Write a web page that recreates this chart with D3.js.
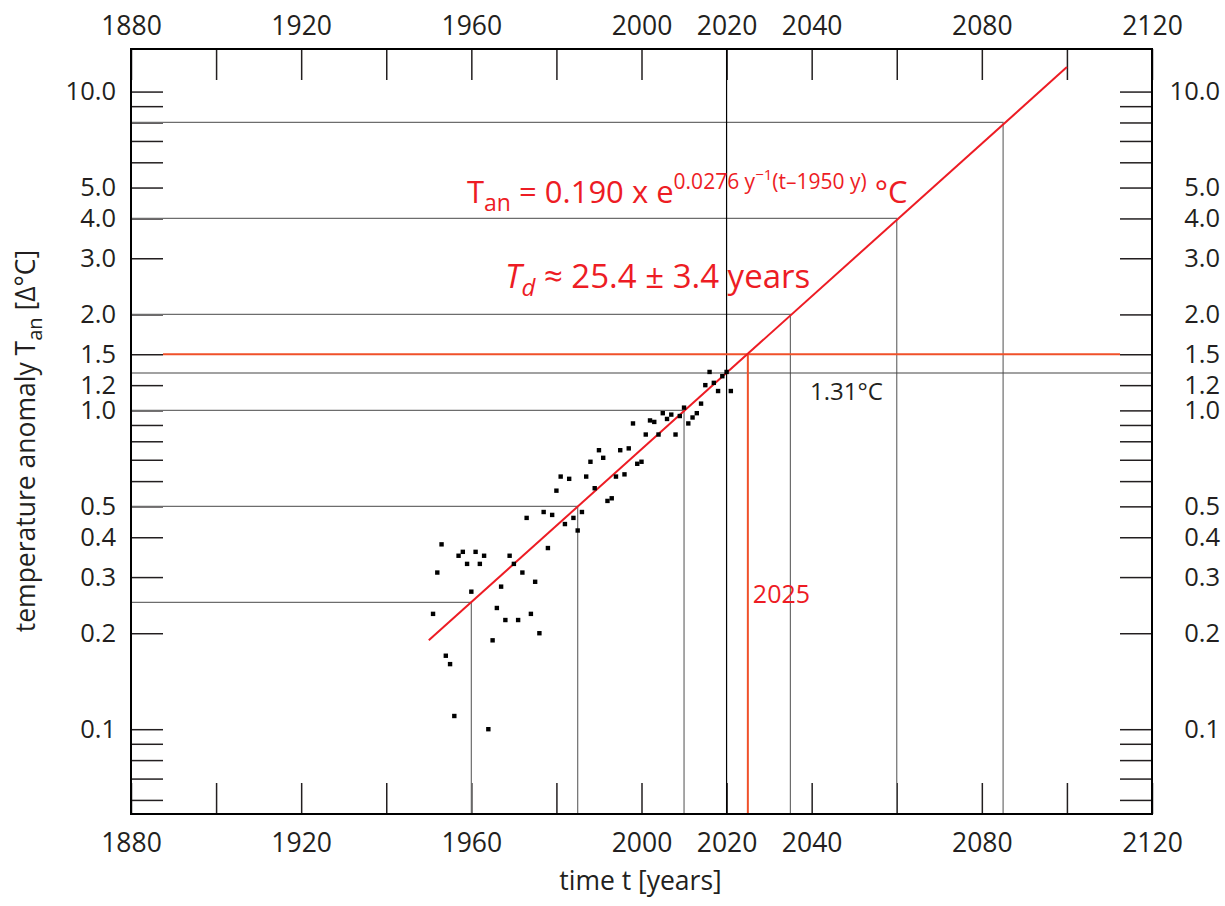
<!DOCTYPE html>
<html>
<head>
<meta charset="utf-8">
<script src="https://cdn.jsdelivr.net/npm/d3@7"></script>
<style>
  body { margin: 0; background: #fff; }
  svg text { font-family: "Open Sans", "Noto Sans", sans-serif; }
</style>
</head>
<body>
<svg id="chart" width="1225" height="906"></svg>
<script>
// annual temperature anomaly
const years = [1951, 1952, 1953, 1954, 1955, 1956, 1957, 1958, 1959, 1960,
  1961, 1962, 1963, 1964, 1965, 1966, 1967, 1968, 1969, 1970,
  1971, 1972, 1973, 1974, 1975, 1976, 1977, 1978, 1979, 1980,
  1981, 1982, 1983, 1984, 1985, 1986, 1987, 1988, 1989, 1990,
  1991, 1992, 1993, 1994, 1995, 1996, 1997, 1998, 1999, 2000,
  2001, 2002, 2003, 2004, 2005, 2006, 2007, 2008, 2009, 2010,
  2011, 2012, 2013, 2014, 2015, 2016, 2017, 2018, 2019, 2020, 2021];
const anomalies = [0.23, 0.31, 0.38, 0.17, 0.16, 0.11, 0.35, 0.36, 0.33, 0.27,
  0.36, 0.33, 0.35, 0.10, 0.19, 0.24, 0.28, 0.22, 0.35, 0.33,
  0.22, 0.31, 0.46, 0.23, 0.29, 0.20, 0.48, 0.37, 0.47, 0.56,
  0.62, 0.44, 0.61, 0.46, 0.42, 0.48, 0.62, 0.69, 0.57, 0.75,
  0.71, 0.52, 0.53, 0.62, 0.75, 0.63, 0.76, 0.91, 0.68, 0.69,
  0.84, 0.93, 0.92, 0.84, 0.98, 0.94, 0.97, 0.84, 0.96, 1.02,
  0.91, 0.95, 0.98, 1.05, 1.20, 1.32, 1.22, 1.15, 1.28, 1.32, 1.15];

// exponential fit  T = a * exp(k (t - t0))
const fitA = 0.190, fitK = 0.0276, fitT0 = 1950;
const fitRange = [1950, 2100];

// doubling marks (every 25 years)
const doublingYears = [1960, 1985, 2010, 2035, 2060, 2085];
const doublingValues = [0.25, 0.5, 1, 2, 4, 8];

const currentYear = 2020, currentValue = 1.31;
const limitValue = 1.5, limitYear = 2025;

const xTicks = [1880, 1900, 1920, 1940, 1960, 1980, 2000, 2020, 2040, 2060, 2080, 2100, 2120];
const xLabels = [1880, 1920, 1960, 2000, 2020, 2040, 2080, 2120];
const yTicks = [0.06, 0.07, 0.08, 0.09, 0.1, 0.2, 0.3, 0.4, 0.5, 0.6, 0.7, 0.8, 0.9,
  1.0, 1.2, 1.5, 2, 3, 4, 5, 6, 7, 8, 9, 10];
const yLabels = [0.1, 0.2, 0.3, 0.4, 0.5, 1.0, 1.2, 1.5, 2, 3, 4, 5, 10];

const RED = "#ed1c24", ORANGE = "#f0512a", INK = "#231f20", GRID = "#6d6d6d";

const svg = d3.select("#chart");
const margin = {top: 49, left: 131, right: 73, bottom: 92};
const W = 1225 - margin.left - margin.right;   // 1021
const H = 906 - margin.top - margin.bottom;    // 765

const x = d3.scaleLinear().domain([1880, 2120]).range([0, W]);
const y = d3.scaleLog().domain([0.0542, 13.6]).range([H, 0]);

const g = svg.append("g").attr("transform", `translate(${margin.left},${margin.top})`);

// axes (ticks point inward)
const fmtX = d => xLabels.includes(d) ? d : "";
const fmtY = d => yLabels.some(v => Math.abs(v - d) < 1e-9) ? d3.format(".1f")(d) : "";

function styleAxis(sel, size) {
  sel.select(".domain").remove();
  sel.selectAll("line").attr("stroke", INK).attr("stroke-width", 1.5);
  sel.selectAll("text").attr("fill", INK).style("font-size", size + "px");
}

g.append("g").attr("transform", `translate(0,${H})`)
  .call(d3.axisBottom(x).tickValues(xTicks).tickFormat(fmtX).tickSizeInner(-31).tickSizeOuter(0).tickPadding(19))
  .call(styleAxis, 26.5);
g.append("g")
  .call(d3.axisTop(x).tickValues(xTicks).tickFormat(fmtX).tickSizeInner(-31).tickSizeOuter(0).tickPadding(14))
  .call(styleAxis, 26.5);
g.append("g")
  .call(d3.axisLeft(y).tickValues(yTicks).tickFormat(fmtY).tickSizeInner(-32).tickSizeOuter(0).tickPadding(15))
  .call(styleAxis, 25.5);
g.append("g").attr("transform", `translate(${W},0)`)
  .call(d3.axisRight(y).tickValues(yTicks).tickFormat(fmtY).tickSizeInner(-32).tickSizeOuter(0).tickPadding(68))
  .call(styleAxis, 25.5)
  .selectAll("text").attr("text-anchor", "end");

// doubling guide lines
const guides = g.append("g").attr("stroke", GRID).attr("stroke-width", 1.2).attr("fill", "none");
doublingYears.forEach((yr, i) => {
  const v = doublingValues[i];
  guides.append("path")
    .attr("d", `M0,${y(v)}H${x(yr)}V${H}`);
});

// current anomaly level and year
g.append("line").attr("x1", 0).attr("x2", W).attr("y1", y(currentValue)).attr("y2", y(currentValue))
  .attr("stroke", "#444").attr("stroke-width", 1.2);
g.append("line").attr("x1", x(currentYear)).attr("x2", x(currentYear)).attr("y1", 0).attr("y2", H)
  .attr("stroke", "#000").attr("stroke-width", 1.2);

// 1.5 degree limit
g.append("line").attr("x1", 32).attr("x2", W - 32).attr("y1", y(limitValue)).attr("y2", y(limitValue))
  .attr("stroke", ORANGE).attr("stroke-width", 2);
g.append("line").attr("x1", x(limitYear)).attr("x2", x(limitYear)).attr("y1", y(limitValue)).attr("y2", H)
  .attr("stroke", ORANGE).attr("stroke-width", 2);

// fit line
const fitLine = d3.line().x(d => x(d)).y(d => y(fitA * Math.exp(fitK * (d - fitT0))));
g.append("path").datum(fitRange).attr("d", fitLine)
  .attr("fill", "none").attr("stroke", RED).attr("stroke-width", 2);

// data points
g.append("g").selectAll("rect").data(years).join("rect")
  .attr("x", (d, i) => x(d) - 2.2)
  .attr("y", (d, i) => y(anomalies[i]) - 2.2)
  .attr("width", 4.4).attr("height", 4.4).attr("fill", "#000");

// frame
g.append("rect").attr("width", W).attr("height", H)
  .attr("fill", "none").attr("stroke", "#000").attr("stroke-width", 2);

// labels in plot
g.append("text").attr("x", x(limitYear) + 5).attr("y", 603 - margin.top)
  .attr("fill", RED).style("font-size", "25px").text(limitYear);
g.append("text").attr("x", 810 - margin.left).attr("y", 400 - margin.top)
  .attr("fill", INK).style("font-size", "24px").text("1.31°C");

// equation
const eq = svg.append("text").attr("x", 467).attr("y", 203).attr("fill", RED).style("font-size", "31px");
eq.append("tspan").text("T");
eq.append("tspan").attr("dy", 8).style("font-size", "23px").text("an");
eq.append("tspan").attr("dy", -8).text(" = 0.190 x e");
eq.append("tspan").attr("dy", -14).style("font-size", "21px").text("0.0276 y");
eq.append("tspan").attr("dy", -9).style("font-size", "15px").text("−1");
eq.append("tspan").attr("dy", 9).style("font-size", "21px").text("(t–1950 y)");
eq.append("tspan").attr("dy", 14).text(" °C");

const td = svg.append("text").attr("x", 505).attr("y", 288).attr("fill", RED).style("font-size", "33px");
td.append("tspan").style("font-style", "italic").text("T");
td.append("tspan").attr("dy", 8).style("font-style", "italic").style("font-size", "24px").text("d");
td.append("tspan").attr("dy", -8).text(" ≈ 25.4 ± 3.4 years");

// axis titles
svg.append("text").attr("x", margin.left + x(2000) - 1).attr("y", 890)
  .attr("text-anchor", "middle").attr("fill", INK).style("font-size", "26.5px")
  .text("time t [years]");

const yt = svg.append("text").attr("transform", "translate(35,441) rotate(-90)")
  .attr("text-anchor", "middle").attr("fill", INK).style("font-size", "26.5px");
yt.append("tspan").text("temperature anomaly T");
yt.append("tspan").attr("dy", 7).style("font-size", "20px").text("an");
yt.append("tspan").attr("dy", -7).text(" [Δ°C]");
</script>
</body>
</html>
